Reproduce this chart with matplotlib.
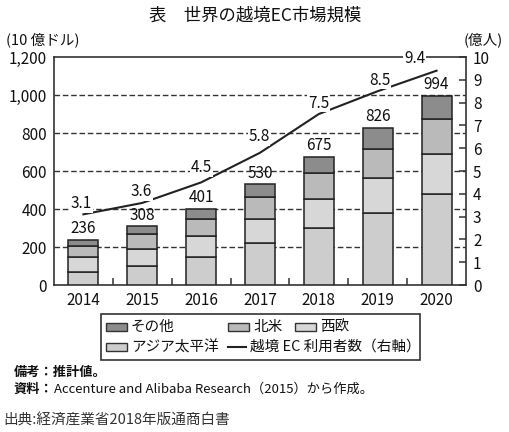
import matplotlib
matplotlib.use("Agg")
import matplotlib.pyplot as plt
from matplotlib.patches import Rectangle
from matplotlib.lines import Line2D
import numpy as np

plt.rcParams['font.family'] = ['Noto Sans CJK JP', 'DejaVu Sans']

# ---- data ----
years = ['2014', '2015', '2016', '2017', '2018', '2019', '2020']
asia_pacific = [70, 98, 145, 219, 299, 380, 478]
west_europe = [75, 93, 112, 127, 152, 183, 213]
north_america = [60, 80, 93, 118, 139, 151, 184]
others = [31, 37, 51, 66, 85, 112, 119]
totals = [236, 308, 401, 530, 675, 826, 994]
users = [3.1, 3.6, 4.5, 5.8, 7.5, 8.5, 9.4]
left_ticks = [0, 200, 400, 600, 800, 1000, 1200]
right_ticks = list(range(0, 11))

# ---- styling ----
W, H = 510, 432
c_asia, c_we, c_na, c_oth = '#cdcdcd', '#d7d7d7', '#bababa', '#8c8c8c'
edge = '#222222'
user_label_offsets = [(-2, 11), (-1, 11), (0, 15), (-1, 16), (0, 11), (2, 11), (-22, 12)]

fig = plt.figure(figsize=(W / 100, H / 100), dpi=100)

def fx(px):
    return px / W

def fy(py):
    return 1 - py / H

ax = fig.add_axes([fx(54), fy(285), fx(466) - fx(54), fy(57) - fy(285)])
x = np.arange(len(years))
bw = 0.51

bottom = np.zeros(len(years))
for vals, col in [(asia_pacific, c_asia), (west_europe, c_we), (north_america, c_na), (others, c_oth)]:
    cont = ax.bar(x, vals, bw, bottom=bottom, color=col, edgecolor=edge, linewidth=1.1, zorder=3)
    bottom = bottom + np.array(vals)
ax.bar_label(cont, labels=[str(t) for t in totals], padding=2, fontsize=11, color='#111111')

ax.set_xlim(-0.5, len(years) - 0.5)
ax.set_ylim(0, 1200)
ax.set_yticks(left_ticks)
ax.set_yticklabels([f'{v:,}' for v in left_ticks], fontsize=11, color='#111111')
ax.tick_params(axis='y', length=0, pad=5)
ax.set_xticks(x)
ax.set_xticklabels(years, fontsize=11, color='#111111')
ax.set_xticks(np.arange(0.5, len(years) - 1, 1), minor=True)
ax.tick_params(axis='x', which='major', length=0, pad=5)
ax.tick_params(axis='x', which='minor', direction='in', length=5, width=1.1, color='#333333')
for yv in left_ticks[1:-1]:
    ax.axhline(yv, color='#333333', lw=1.0, ls=(0, (4, 2)), zorder=1)
for s in ax.spines.values():
    s.set_color('#333333')
    s.set_linewidth(1.2)

ax2 = ax.twinx()
ax2.set_ylim(0, 10)
ax2.set_yticks(right_ticks)
ax2.set_yticklabels([str(v) for v in right_ticks], fontsize=11, color='#111111')
ax2.tick_params(axis='y', direction='in', length=5, width=1.1, color='#333333', pad=5)
for s in ax2.spines.values():
    s.set_visible(False)
ax2.plot(x, users, color='#222222', lw=1.5, zorder=4)
for xi, u, (dx, dy) in zip(x, users, user_label_offsets):
    ax2.annotate(f'{u}', (xi, u), xytext=(dx, dy), textcoords='offset pixels',
                 ha='center', va='center', fontsize=11, color='#111111',
                 bbox=dict(boxstyle='square,pad=0.05', fc='white', ec='none'), zorder=5,
                 annotation_clip=False)

# axis unit labels
fig.text(fx(6), fy(40), '(10 億ドル)', fontsize=10.5, ha='left', va='center', color='#111111')
fig.text(fx(503), fy(40), '(億人)', fontsize=10.5, ha='right', va='center', color='#111111')

# title
fig.text(0.5, fy(16), '表　世界の越境EC市場規模', fontsize=12.5, ha='center', va='center', color='#111111')

# legend (drawn manually to match the layout)
fig.patches.append(Rectangle((fx(101), fy(360)), fx(420) - fx(101), fy(314) - fy(360),
                             transform=fig.transFigure, fill=False, ec='#333333', lw=1.2))
legend_items = [
    (c_oth, 'その他', 106, 327),
    (c_na, '北米', 228, 327),
    (c_we, '西欧', 295, 327),
    (c_asia, 'アジア太平洋', 106, 347),
]
for col, lab, px, py in legend_items:
    fig.patches.append(Rectangle((fx(px), fy(py + 4)), fx(21), fy(0) - fy(8),
                                 transform=fig.transFigure, fc=col, ec='#333333', lw=1.0))
    fig.text(fx(px + 25), fy(py), lab, fontsize=10.5, ha='left', va='center', color='#111111')
fig.lines.append(Line2D([fx(228), fx(246)], [fy(347), fy(347)], transform=fig.transFigure,
                        color='#222222', lw=1.5))
fig.text(fx(250), fy(347), '越境 EC 利用者数（右軸）', fontsize=10.5, ha='left', va='center', color='#111111')

# notes
fig.text(fx(14), fy(372), '備考：推計値。', fontsize=9.5, ha='left', va='center', color='#111111', fontweight='bold')
t_head = fig.text(fx(14), fy(389), '資料：', fontsize=9.5, ha='left', va='center', color='#111111',
                  fontweight='bold')
fig.canvas.draw()
bb = t_head.get_window_extent(renderer=fig.canvas.get_renderer())
fig.text(bb.x1 / W, fy(389), 'Accenture and Alibaba Research（2015）から作成。', fontsize=9.5,
         ha='left', va='center', color='#111111')
fig.text(fx(3), fy(420), '出典:経済産業省2018年版通商白書', fontsize=10.5, ha='left', va='center', color='#333333')

fig.savefig('out.png', dpi=100)
